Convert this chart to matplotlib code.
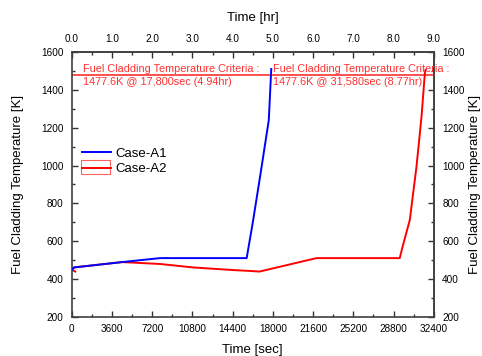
import numpy as np
import matplotlib.pyplot as plt
from matplotlib.ticker import AutoMinorLocator, FormatStrFormatter
from matplotlib.patches import Rectangle

plt.rcParams['font.family'] = ['Liberation Sans', 'DejaVu Sans']

# Case-A1 (blue) and Case-A2 (red) cladding temperature traces
time_a1 = [0, 200, 4500, 7900, 15650, 16200, 16900, 17630, 17850]
temp_a1 = [450, 462, 490, 511, 511, 700, 960, 1240, 1510]

time_a2 = [300, 0, 250, 4500, 7900, 10800, 14400, 16000, 16800, 21900,
           29350, 29600, 30250, 30850, 31300, 31600, 31650]
temp_a2 = [440, 450, 462, 490, 480, 462, 448, 443, 440, 511,
           511, 570, 712, 994, 1258, 1488, 1505]

criteria_temp = 1477.6
criteria_notes = [
    (1000, "Fuel Cladding Temperature Criteria :", "1477.6K @ 17,800sec (4.94hr)"),
    (18000, "Fuel Cladding Temperature Criteria :", "1477.6K @ 31,580sec (8.77hr)"),
]

sec_ticks = np.arange(0, 32401, 3600)
hr_ticks = np.arange(0, 9.01, 1.0)
temp_ticks = np.arange(200, 1601, 200)

fig = plt.figure(figsize=(4.82, 3.56), dpi=100)
ax = fig.add_axes([0.149, 0.1096, 0.751, 0.7444])

ax.axhline(criteria_temp, color='#ff5050', lw=1.4, zorder=1)
ax.plot(time_a1, temp_a1, color='#0000ff', lw=1.4, label='Case-A1', zorder=3)
ax.plot(time_a2, temp_a2, color='#ff0000', lw=1.4, label='Case-A2', zorder=2)

for x0, line1, line2 in criteria_notes:
    ax.text(x0, 1509, line1, color='#ff3030', fontsize=7.8, va='center', ha='left')
    ax.text(x0, 1441, line2, color='#ff3030', fontsize=7.8, va='center', ha='left')

ax.set_xlim(0, 32400)
ax.set_ylim(200, 1600)
ax.set_xticks(sec_ticks)
ax.set_yticks(temp_ticks)
ax.xaxis.set_minor_locator(AutoMinorLocator(2))
ax.yaxis.set_minor_locator(AutoMinorLocator(2))
ax.set_xlabel('Time [sec]', fontsize=9.5, labelpad=7)
ax.set_ylabel('Fuel Cladding Temperature [K]', fontsize=9.5, labelpad=12)

top = ax.secondary_xaxis('top', functions=(lambda s: s / 3600.0, lambda h: h * 3600.0))
top.set_xticks(hr_ticks)
top.xaxis.set_major_formatter(FormatStrFormatter('%.1f'))
top.xaxis.set_minor_locator(AutoMinorLocator(2))
top.set_xlabel('Time [hr]', fontsize=9.5, labelpad=9)

right = ax.secondary_yaxis('right', functions=(lambda t: t, lambda t: t))
right.set_yticks(temp_ticks)
right.yaxis.set_minor_locator(AutoMinorLocator(2))
right.set_ylabel('Fuel Cladding Temperature [K]', fontsize=9.5, labelpad=3)

for a in (ax, top, right):
    a.tick_params(which='major', direction='in', length=4, width=1, labelsize=7.2, color='#333333', pad=6)
    a.tick_params(which='minor', direction='in', length=2, width=1, color='#333333')
    for sp in a.spines.values():
        sp.set_color('#404040')
        sp.set_linewidth(1.2)
ax.tick_params(axis='x', which='major', pad=5)

leg = ax.legend(loc='upper left', bbox_to_anchor=(-0.004, 0.684), frameon=False, fontsize=9.5,
                handlelength=2.2, handletextpad=0.3, labelspacing=0.25, borderpad=0.4)

# selection box drawn around the Case-A2 legend handle in the original
ax.add_patch(Rectangle((0.025, 0.540), 0.080, 0.052, transform=ax.transAxes,
                       fill=False, edgecolor='#ff6060', lw=0.8, zorder=5))

fig.savefig('out.png', dpi=100)
